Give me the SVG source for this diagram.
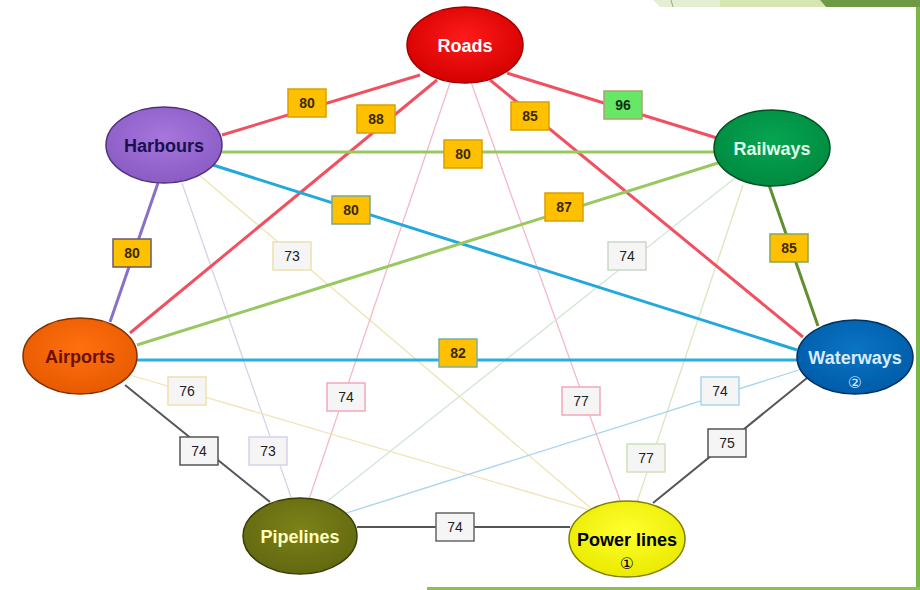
<svg xmlns="http://www.w3.org/2000/svg" width="920" height="590" viewBox="0 0 920 590">
<style>
.n{font-family:"Liberation Sans",Arial,sans-serif;font-weight:bold;font-size:18px;text-anchor:middle}
.c{font-family:"DejaVu Sans","Liberation Sans",sans-serif;font-size:16px;text-anchor:middle}
.lt{font-family:"Liberation Sans",Arial,sans-serif;font-size:14px;text-anchor:middle;fill:#222}
.lb{font-weight:bold;fill:#3a2a00}
.g{fill:#ffc000;stroke:#d9a000;stroke-width:1.5}
.w{fill:#f5f5f5;stroke-width:1.5}
.s{fill:none;stroke-width:3}
.f{fill:none;stroke-width:1.3}
</style>
<defs>
<radialGradient id="gR" cx="50%" cy="40%" r="60%"><stop offset="0" stop-color="#ff1a1a"/><stop offset="1" stop-color="#d40000"/></radialGradient>
<radialGradient id="gH" cx="50%" cy="40%" r="60%"><stop offset="0" stop-color="#a676dc"/><stop offset="1" stop-color="#8a5cc4"/></radialGradient>
<radialGradient id="gRw" cx="50%" cy="40%" r="60%"><stop offset="0" stop-color="#06a552"/><stop offset="1" stop-color="#008a40"/></radialGradient>
<radialGradient id="gA" cx="50%" cy="40%" r="60%"><stop offset="0" stop-color="#ff7010"/><stop offset="1" stop-color="#e85a00"/></radialGradient>
<radialGradient id="gW" cx="50%" cy="40%" r="60%"><stop offset="0" stop-color="#0a74c4"/><stop offset="1" stop-color="#005ca8"/></radialGradient>
<radialGradient id="gP" cx="50%" cy="40%" r="60%"><stop offset="0" stop-color="#7c8218"/><stop offset="1" stop-color="#626810"/></radialGradient>
<radialGradient id="gPL" cx="50%" cy="40%" r="60%"><stop offset="0" stop-color="#ffff30"/><stop offset="1" stop-color="#eaea00"/></radialGradient>
</defs>
<rect width="920" height="590" fill="#ffffff"/>
<g id="frame">
<polygon points="653,0 720,0 720,7 660,7" fill="#e4eed2"/>
<polygon points="720,0 820,0 826,7 720,7" fill="#d6e6b2"/>
<polygon points="820,0 920,0 920,7 826,7" fill="#6f9a45"/>
<line x1="671" y1="0" x2="673" y2="7" stroke="#9aa890" stroke-width="1"/>
<rect x="916" y="7" width="4" height="583" fill="#7ab648"/>
<rect x="427" y="587" width="493" height="3" fill="#8cc152"/>
</g>
<g id="connectors">
<line class="f" x1="164" y1="145" x2="627" y2="539" stroke="#ede4b0"/>
<line class="f" x1="182" y1="183" x2="299" y2="520" stroke="#d8d0ea"/>
<line class="f" x1="451" y1="80" x2="302" y2="520" stroke="#f4b8c8"/>
<line class="f" x1="471" y1="82" x2="627" y2="520" stroke="#f4b8c8"/>
<line class="f" x1="745" y1="170" x2="320" y2="507" stroke="#d2e6d6"/>
<line class="f" x1="743" y1="185" x2="631" y2="520" stroke="#d8e8c0"/>
<line class="f" x1="130" y1="375" x2="610" y2="516" stroke="#f4e2b4"/>
<line class="f" x1="340" y1="515" x2="805" y2="368" stroke="#a8d4f0"/>
<line class="s" x1="222" y1="135" x2="420" y2="75" stroke="#f05060"/>
<line class="s" x1="437" y1="80" x2="130" y2="333" stroke="#f05060"/>
<line class="s" x1="490" y1="80" x2="803" y2="337" stroke="#f05060"/>
<line class="s" x1="507" y1="73" x2="717" y2="138" stroke="#f05060"/>
<line class="s" x1="222" y1="152" x2="715" y2="152" stroke="#98c860"/>
<line class="s" x1="213" y1="165" x2="797" y2="350" stroke="#22a8dc"/>
<line class="s" x1="137" y1="345" x2="718" y2="163" stroke="#98c860"/>
<line class="s" x1="768" y1="182" x2="818" y2="326" stroke="#5f8f2f"/>
<line class="s" x1="158" y1="183" x2="110" y2="322" stroke="#8a70c8"/>
<line class="s" x1="137" y1="360" x2="797" y2="360" stroke="#2ab0e0"/>
<line x1="125" y1="385" x2="270" y2="502" stroke="#555" stroke-width="2"/>
<line x1="357" y1="527" x2="570" y2="527" stroke="#555" stroke-width="2"/>
<line x1="653" y1="503" x2="807" y2="378" stroke="#555" stroke-width="2"/>
</g>
<g id="labels">
<rect class="g" x="288" y="89" width="38" height="28"/><text class="lt lb" x="307" y="108">80</text>
<rect class="g" x="357" y="105" width="38" height="28"/><text class="lt lb" x="376" y="124">88</text>
<rect class="g" x="511" y="102" width="38" height="28"/><text class="lt lb" x="530" y="121">85</text>
<rect x="604" y="91" width="38" height="28" fill="#66e866" stroke="#b0a070" stroke-width="1.5"/><text class="lt lb" x="623" y="110" style="fill:#103010">96</text>
<rect class="g" x="444" y="140" width="38" height="28"/><text class="lt lb" x="463" y="159">80</text>
<rect class="g" x="332" y="196" width="38" height="28" style="stroke:#7aa890"/><text class="lt lb" x="351" y="215">80</text>
<rect class="g" x="545" y="193" width="38" height="28"/><text class="lt lb" x="564" y="212">87</text>
<rect class="g" x="770" y="234" width="38" height="28" style="stroke:#88a850"/><text class="lt lb" x="789" y="253">85</text>
<rect class="g" x="113" y="239" width="38" height="28" style="stroke:#6a5a6a"/><text class="lt lb" x="132" y="258">80</text>
<rect class="g" x="439" y="339" width="38" height="28" style="stroke:#7ab0a0"/><text class="lt lb" x="458" y="358">82</text>
<rect class="w" x="180" y="437" width="38" height="28" stroke="#555"/><text class="lt" x="199" y="456">74</text>
<rect class="w" x="436" y="513" width="38" height="28" stroke="#666"/><text class="lt" x="455" y="532">74</text>
<rect class="w" x="708" y="429" width="38" height="28" stroke="#555"/><text class="lt" x="727" y="448">75</text>
<rect class="w" x="273" y="242" width="38" height="28" stroke="#ece0b0"/><text class="lt" x="292" y="261">73</text>
<rect class="w" x="249" y="437" width="38" height="28" stroke="#d8d0ea"/><text class="lt" x="268" y="456">73</text>
<rect class="w" x="327" y="383" width="38" height="28" stroke="#f0a8b8"/><text class="lt" x="346" y="402">74</text>
<rect class="w" x="562" y="387" width="38" height="28" stroke="#f0a8b8"/><text class="lt" x="581" y="406">77</text>
<rect class="w" x="608" y="242" width="38" height="28" stroke="#c8d8c8"/><text class="lt" x="627" y="261">74</text>
<rect class="w" x="627" y="444" width="38" height="28" stroke="#cfe0b8"/><text class="lt" x="646" y="463">77</text>
<rect class="w" x="168" y="377" width="38" height="28" stroke="#f0e0b0"/><text class="lt" x="187" y="396">76</text>
<rect class="w" x="701" y="377" width="38" height="28" stroke="#a8d4f0"/><text class="lt" x="720" y="396">74</text>
</g>
<g id="roads"><ellipse cx="465" cy="45" rx="58" ry="38" fill="url(#gR)" stroke="#a00000" stroke-width="1.5"/><text class="n" x="465" y="52" fill="#ffffff">Roads</text></g>
<g id="harbours"><ellipse cx="164" cy="145" rx="58" ry="38" fill="url(#gH)" stroke="#503080" stroke-width="1.5"/><text class="n" x="164" y="152" fill="#1a1050">Harbours</text></g>
<g id="railways"><ellipse cx="772" cy="148" rx="58" ry="38" fill="url(#gRw)" stroke="#005020" stroke-width="1.5"/><text class="n" x="772" y="155" fill="#e0ffe8">Railways</text></g>
<g id="airports"><ellipse cx="80" cy="356" rx="57" ry="38" fill="url(#gA)" stroke="#803000" stroke-width="1.5"/><text class="n" x="80" y="363" fill="#6a1000">Airports</text></g>
<g id="waterways"><ellipse cx="855" cy="357" rx="58" ry="37" fill="url(#gW)" stroke="#003060" stroke-width="1.5"/><text class="n" x="855" y="364" fill="#d8ecff">Waterways</text><text class="c" x="855" y="388" fill="#d8ecff">②</text></g>
<g id="pipelines"><ellipse cx="300" cy="536" rx="57" ry="38" fill="url(#gP)" stroke="#3a3c08" stroke-width="1.5"/><text class="n" x="300" y="543" fill="#ffffc0">Pipelines</text></g>
<g id="powerlines"><ellipse cx="627" cy="539" rx="58" ry="38" fill="url(#gPL)" stroke="#808000" stroke-width="1.5"/><text class="n" x="627" y="546" fill="#000000">Power lines</text><text class="c" x="627" y="569" fill="#000000">①</text></g>
</svg>
